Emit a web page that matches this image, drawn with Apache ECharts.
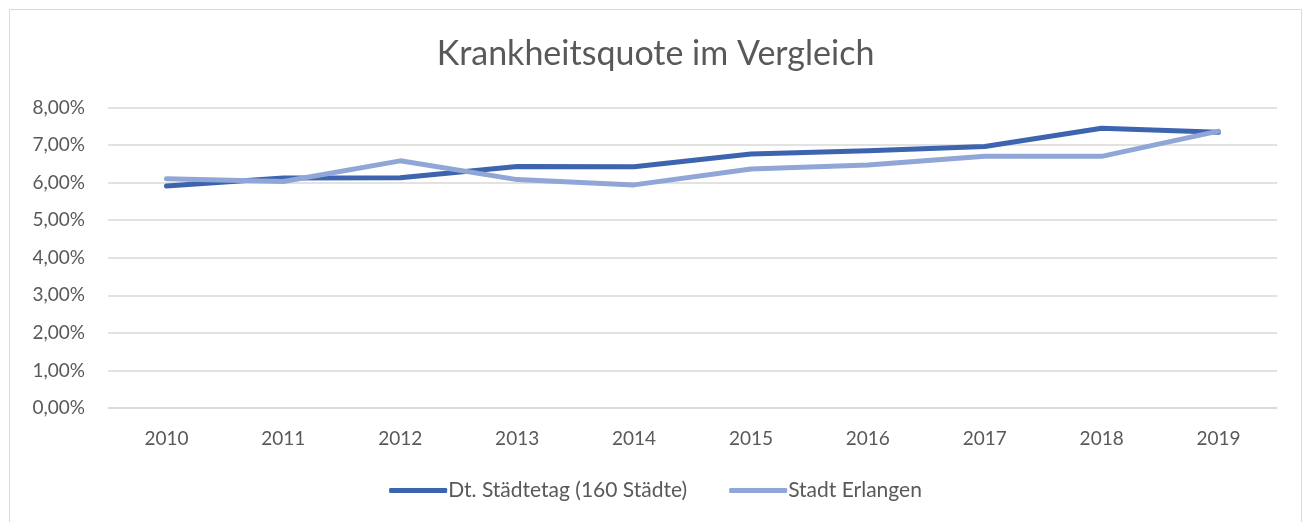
<!DOCTYPE html>
<html><head><meta charset="utf-8">
<script src="https://cdn.jsdelivr.net/npm/echarts@6/dist/echarts.min.js"></script>
<style>html,body{margin:0;padding:0;background:#fff}#c{width:1311px;height:522px}</style>
</head><body><div id="c"></div>
<script>
const years = ['2010','2011','2012','2013','2014','2015','2016','2017','2018','2019'];
const staedtetag = [5.91, 6.12, 6.13, 6.43, 6.42, 6.76, 6.85, 6.96, 7.45, 7.34];
const erlangen = [6.10, 6.03, 6.58, 6.08, 5.94, 6.36, 6.47, 6.70, 6.70, 7.37];
const seriesNames = ['Dt. Städtetag (160 Städte)', 'Stadt Erlangen'];
const FONT = 'Lato, "Open Sans", sans-serif';
const chart = echarts.init(document.getElementById('c'), null, {renderer:'canvas'});
chart.setOption({
  animation: false,
  backgroundColor: '#fff',
  graphic: [{type:'rect', shape:{x:9.5,y:9.5,width:1292,height:520}, style:{fill:'none', stroke:'#d9d9d9', lineWidth:1}}],
  title: {text:'Krankheitsquote im Vergleich', left:'center', top:32,
    textStyle:{fontFamily:FONT, fontSize:34, fontWeight:'normal', color:'#595959'}},
  legend: {bottom:16, left:'center', itemWidth:58, itemHeight:5, itemGap:42,
    icon:'roundRect',
    textStyle:{fontFamily:FONT, fontSize:21, color:'#595959', padding:[0,0,0,-4]},
    data: seriesNames},
  grid: {left:108, right:34, top:107.5, bottom:114, containLabel:false},
  xAxis: {type:'category', data:years, boundaryGap:true,
    axisLine:{lineStyle:{color:'#d9d9d9', width:1.5}}, axisTick:{show:false},
    axisLabel:{fontFamily:FONT, fontSize:19, color:'#595959', margin:21}},
  yAxis: {type:'value', min:0, max:8, interval:1,
    axisLine:{show:false}, axisTick:{show:false},
    splitLine:{lineStyle:{color:'#d9d9d9', width:1.5}},
    axisLabel:{fontFamily:FONT, fontSize:19, color:'#595959', margin:23,
      formatter: v => v.toFixed(2).replace('.',',') + '%'}},
  series: [
    {name:seriesNames[0], type:'line', data:staedtetag, symbol:'none', color:'#3d64ae',
      lineStyle:{width:5, color:'#3d64ae', cap:'round', join:'round'}},
    {name:seriesNames[1], type:'line', data:erlangen, symbol:'none', color:'#8fa6d6',
      lineStyle:{width:5, color:'#8fa6d6', cap:'round', join:'round'}}
  ]
});
</script></body></html>
